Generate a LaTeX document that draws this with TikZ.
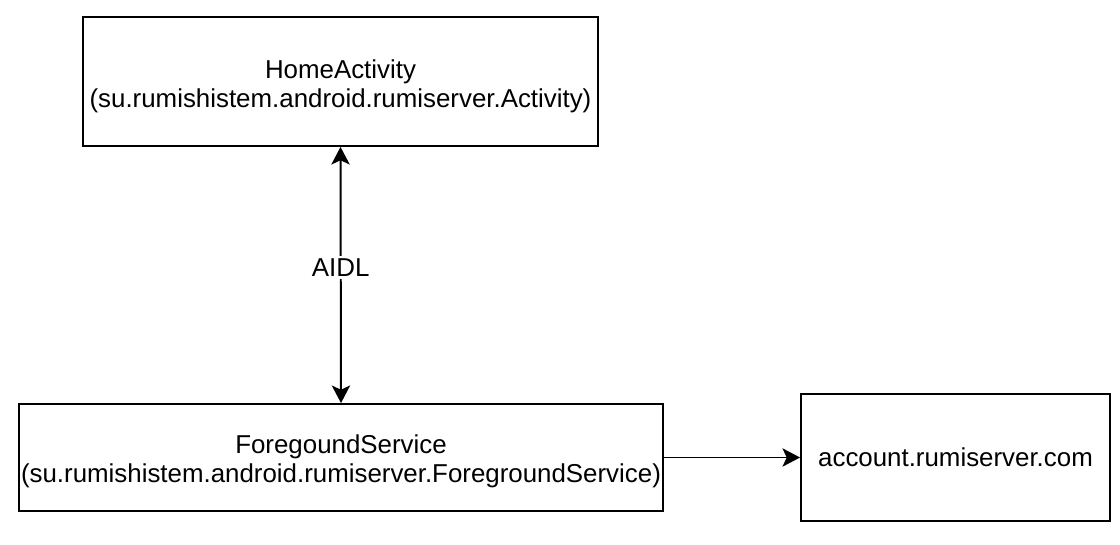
\documentclass[tikz,border=0pt]{standalone}
\usepackage{fontspec}
\setmainfont{Liberation Sans}
\usetikzlibrary{arrows.meta}

\newcommand{\boxtext}[2]{\raisebox{-#1}[\height][\depth]{\begin{tabular}{@{}c@{}}#2\end{tabular}}}

\tikzset{
  compbox/.style={draw,line width=1.3pt,align=center,inner sep=0pt,
    font=\fontsize{18.4}{22.2}\selectfont},
  link/.style={line width=1.4pt,-{Stealth[length=12.5pt,width=13pt,inset=3pt]}},
}

\begin{document}
\begin{tikzpicture}[x=0.025cm,y=-0.025cm]
    \useasboundingbox (0,0) rectangle (1120,545);
    \renewcommand{\arraystretch}{0.93}
    % components
    \node[compbox,minimum width=515*0.025cm,minimum height=129*0.025cm] (home) at (340.5,81.5)
      {\boxtext{4pt}{HomeActivity\\(su.rumishistem.android.rumiserver.Activity)}};
    \node[compbox,minimum width=644*0.025cm,minimum height=107*0.025cm] (service) at (341,457.5)
      {\boxtext{3pt}{ForegoundService\\(su.rumishistem.android.rumiserver.ForegroundService)}};
    \node[compbox,minimum width=309*0.025cm,minimum height=127*0.025cm] (account) at (955.5,457.5)
      {account.rumiserver.com};
    % connections
    \draw[link,{Stealth[length=12.5pt,width=13pt,inset=3pt]}-{Stealth[length=12.5pt,width=13pt,inset=3pt]}]
      (home.south) -- node[pos=0.47,fill=white,inner sep=2pt,font=\fontsize{18.4}{22.2}\selectfont] (aidl) {AIDL} (service.north);
    \draw[link] (service.east) -- (account.west);
  \end{tikzpicture}
\end{document}
